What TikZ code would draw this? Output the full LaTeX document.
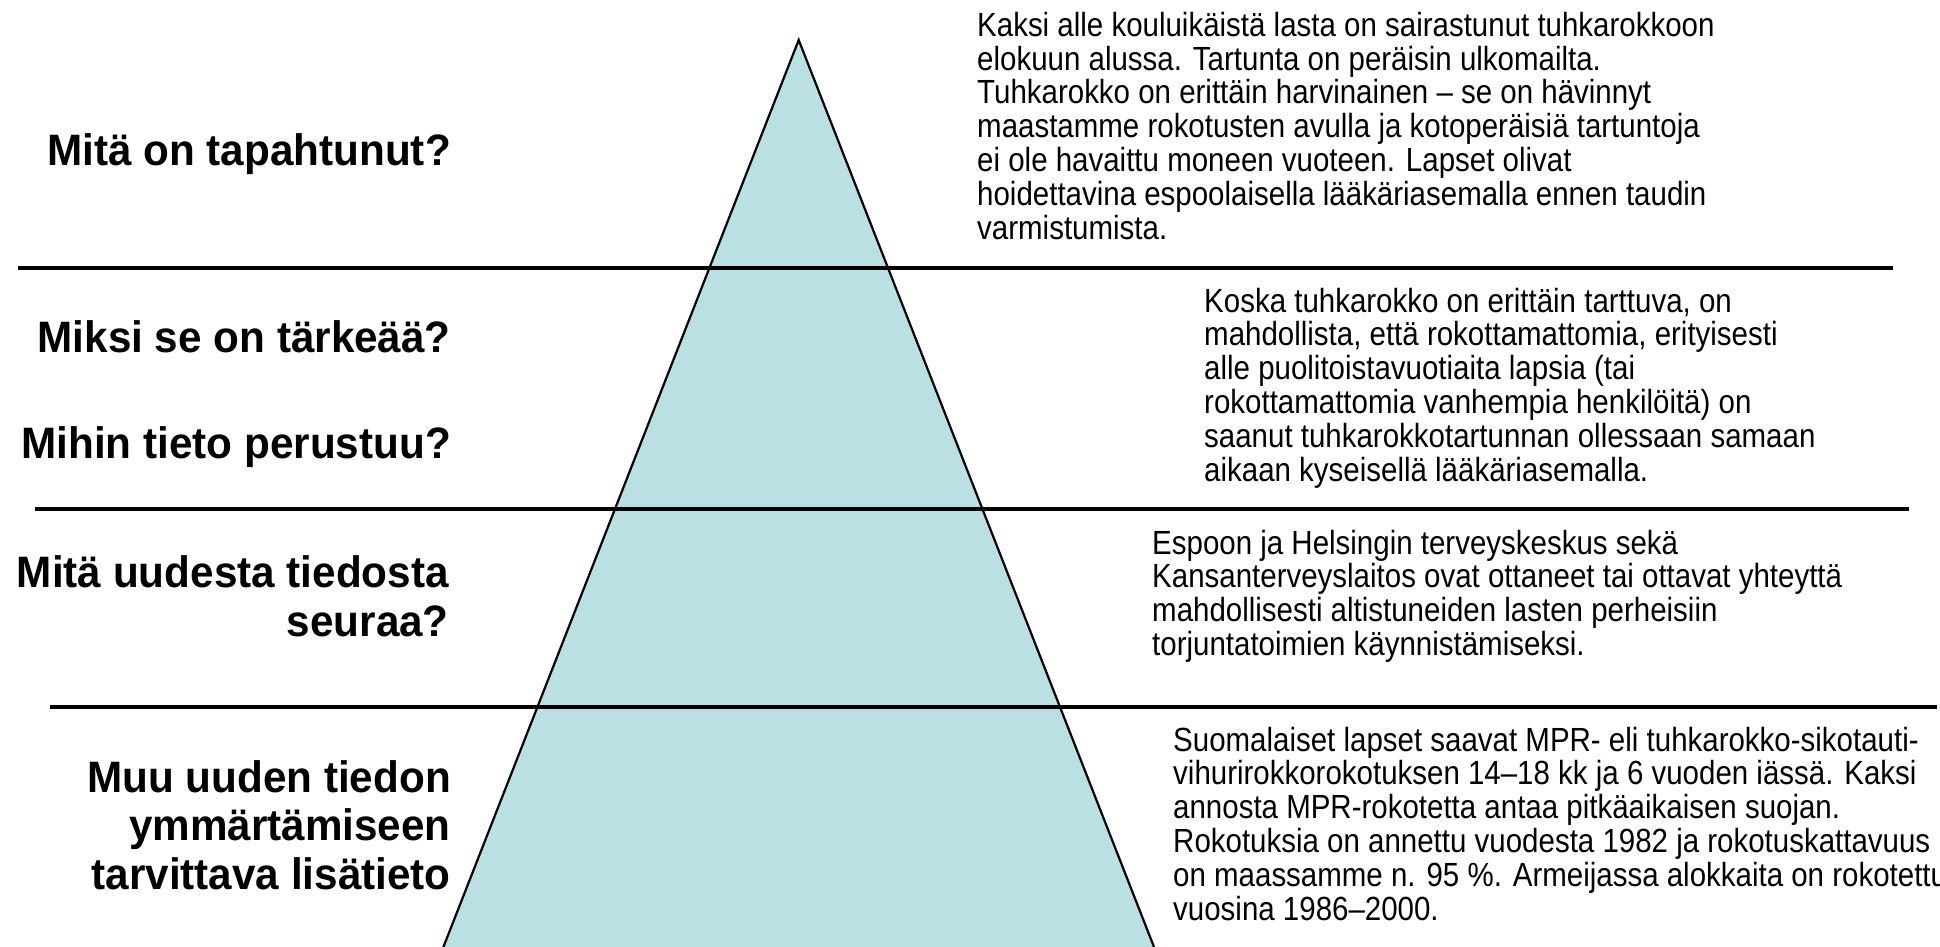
\documentclass[tikz,border=0pt]{standalone}
\usepackage{fontspec}
\usetikzlibrary{calc}
\setmainfont{Liberation Sans}
\newfontfamily\bodyfont[FakeStretch=0.88]{Liberation Sans}
\newfontfamily\labelfont[FakeStretch=0.96]{Liberation Sans}
\definecolor{pyrfill}{RGB}{187,224,227}
\tikzset{
  x=1pt, y=-1pt,
  sep/.style={line width=3.5pt, black},
  pyr/.style={fill=pyrfill, draw=black, line width=2.2pt, line join=miter},
  lbl/.style={anchor=base east, inner sep=0pt, align=right,
    font=\labelfont\bfseries\fontsize{44}{48.5}\selectfont},
  body/.style={anchor=base west, inner sep=0pt, align=left,
    font=\bodyfont\fontsize{33.5}{33.8}\selectfont}
}
\begin{document}
\begin{tikzpicture}
\useasboundingbox (0,0) rectangle (1940,947);
\begin{scope}
\clip (0,0) rectangle (1940,947);
\coordinate (apex) at (798.7,40);
\coordinate (bl) at (443.4,947);
\coordinate (br) at (1154,947);
\filldraw[pyr] (apex) -- ($(apex)!1.05!(bl)$) -- ($(apex)!1.05!(br)$) -- cycle;
\end{scope}
\coordinate (l1a) at (18,268);   \coordinate (l1b) at (1893,268);
\coordinate (l2a) at (35,509);   \coordinate (l2b) at (1909,509);
\coordinate (l3a) at (50,707);   \coordinate (l3b) at (1937,707);
\draw[sep] (l1a) -- (l1b);
\draw[sep] (l2a) -- (l2b);
\draw[sep] (l3a) -- (l3b);

% anchors are at the baseline of the last line of each node
\node[lbl] (q1) at (451,165) {Mitä on tapahtunut?};
\node[lbl] (q2) at (451,352) {Miksi se on tärkeää?};
\node[lbl] (q3) at (451,458) {Mihin tieto perustuu?};
\node[lbl] (q4) at (449,636) {Mitä uudesta tiedosta\\seuraa?};
\node[lbl] (q5) at (451,889) {Muu uuden tiedon\\ymmärtämiseen\\tarvittava lisätieto};

\node[body] (t1) at (977,239) {Kaksi alle kouluikäistä lasta on sairastunut tuhkarokkoon\\
elokuun alussa. Tartunta on peräisin ulkomailta.\\
Tuhkarokko on erittäin harvinainen – se on hävinnyt\\
maastamme rokotusten avulla ja kotoperäisiä tartuntoja\\
ei ole havaittu moneen vuoteen. Lapset olivat\\
hoidettavina espoolaisella lääkäriasemalla ennen taudin\\
varmistumista.};
\node[body] (t2) at (1204,481) {Koska tuhkarokko on erittäin tarttuva, on\\
mahdollista, että rokottamattomia, erityisesti\\
alle puolitoistavuotiaita lapsia (tai\\
rokottamattomia vanhempia henkilöitä) on\\
saanut tuhkarokkotartunnan ollessaan samaan\\
aikaan kyseisellä lääkäriasemalla.};
\node[body] (t3) at (1152,655.4) {Espoon ja Helsingin terveyskeskus sekä\\
Kansanterveyslaitos ovat ottaneet tai ottavat yhteyttä\\
mahdollisesti altistuneiden lasten perheisiin\\
torjuntatoimien käynnistämiseksi.};
\node[body] (t4) at (1173,920) {Suomalaiset lapset saavat MPR- eli tuhkarokko-sikotauti-\\
vihurirokkorokotuksen 14–18 kk ja 6 vuoden iässä. Kaksi\\
annosta MPR-rokotetta antaa pitkäaikaisen suojan.\\
Rokotuksia on annettu vuodesta 1982 ja rokotuskattavuus\\
on maassamme n. 95 \%. Armeijassa alokkaita on rokotettu\\
vuosina 1986–2000.};
\end{tikzpicture}
\end{document}
